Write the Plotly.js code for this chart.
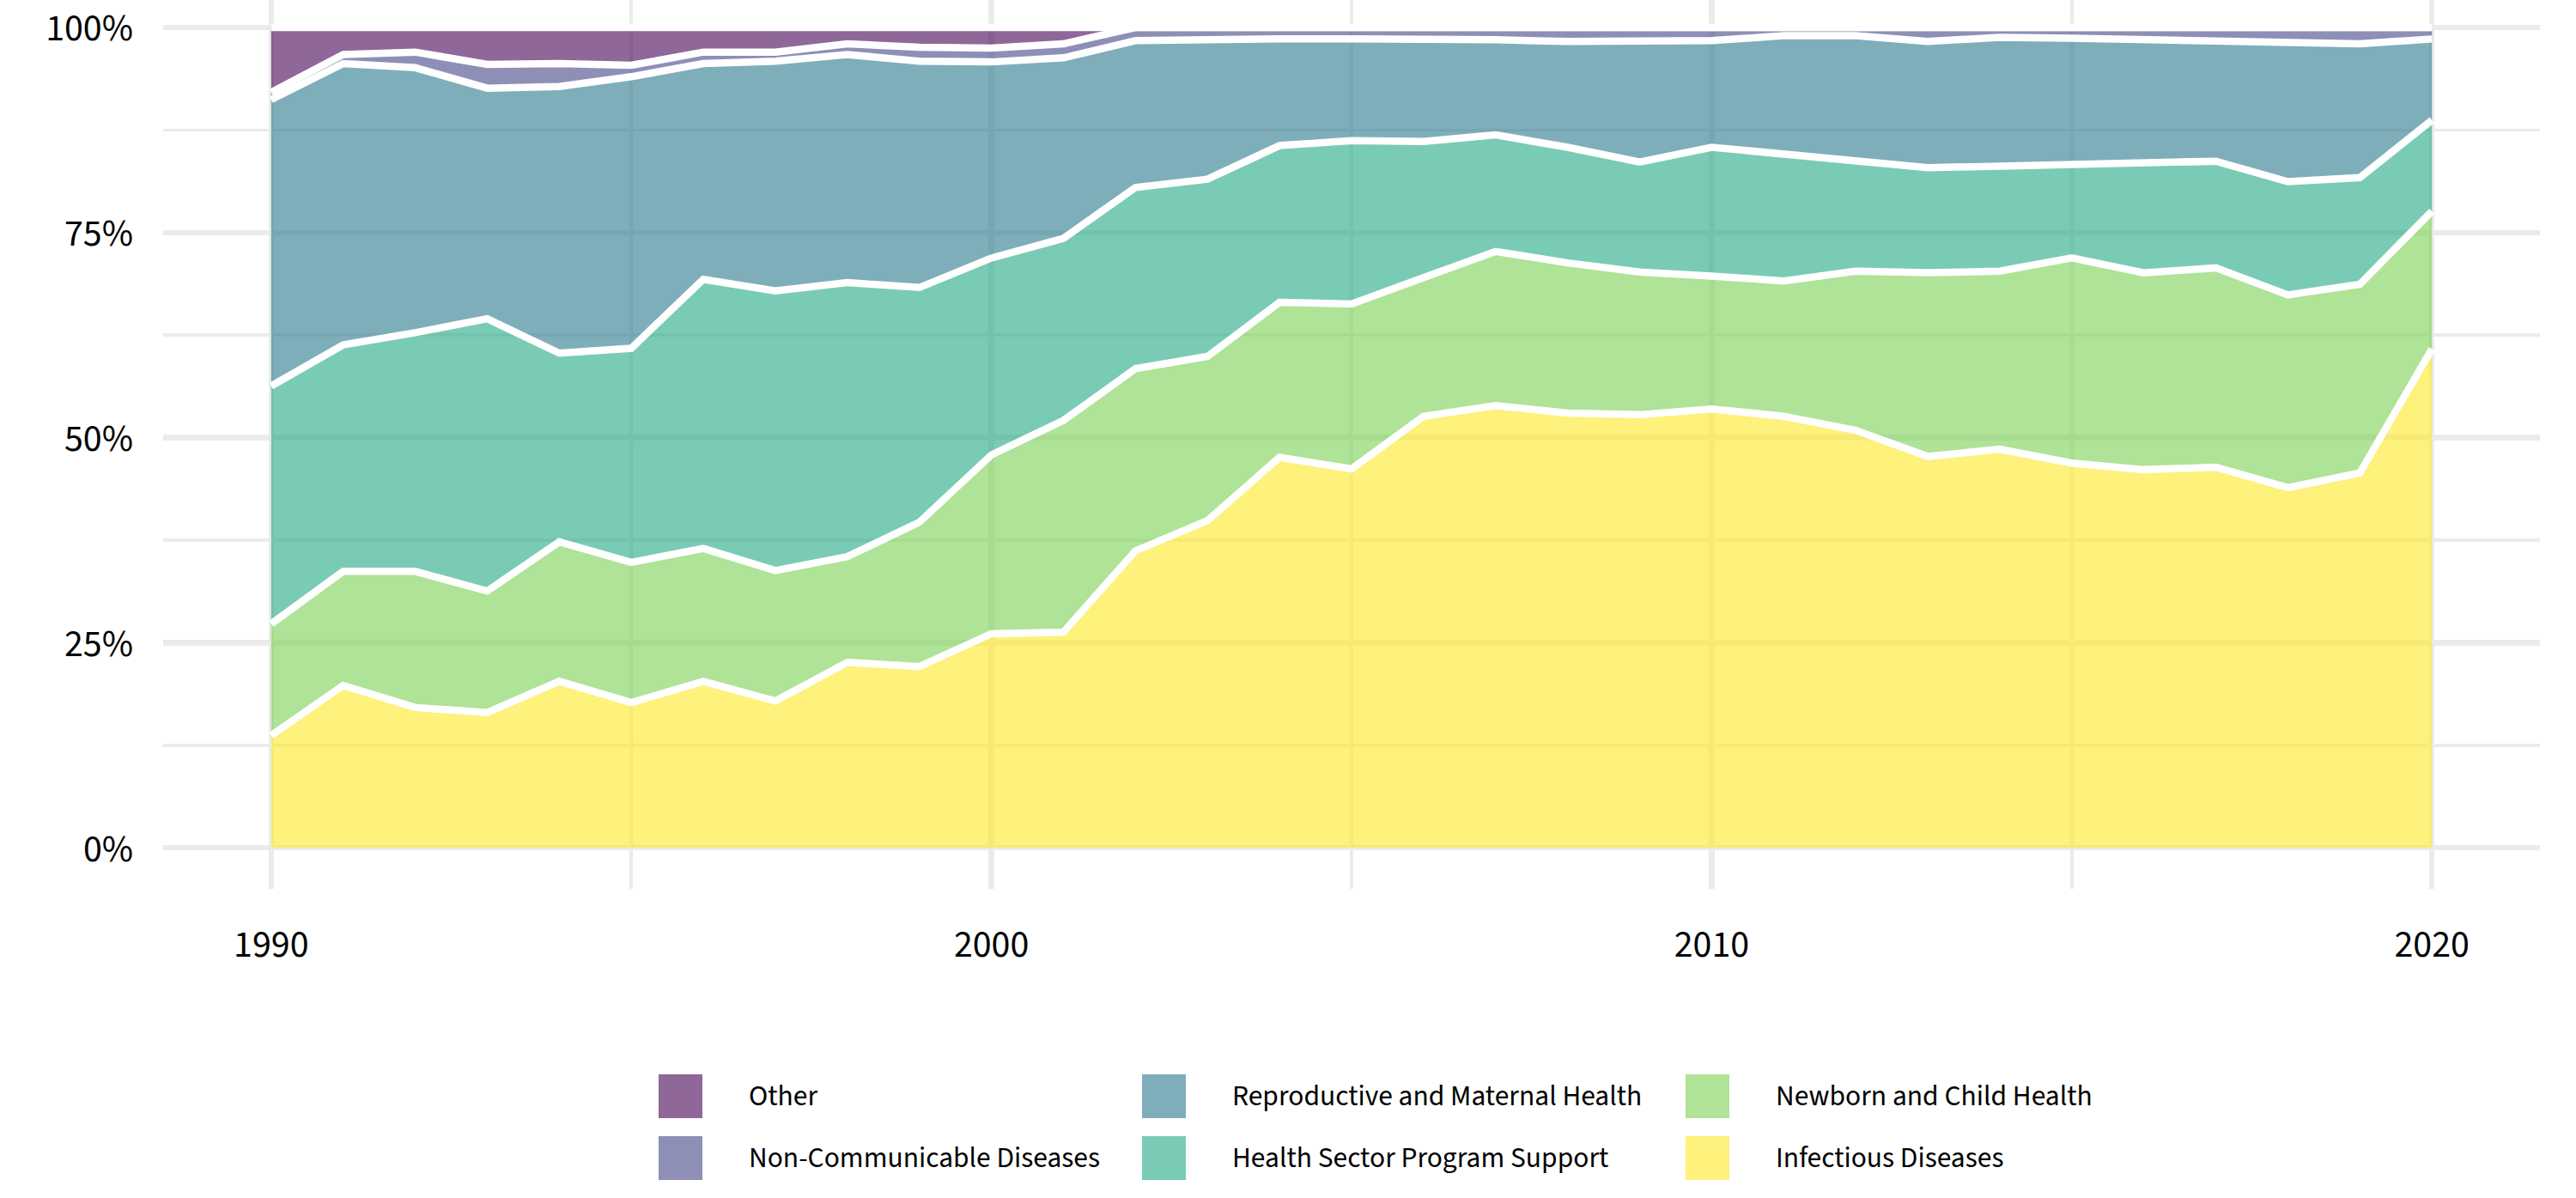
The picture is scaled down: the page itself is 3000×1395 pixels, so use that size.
<!DOCTYPE html>
<html>
<head>
<meta charset="utf-8">
<script src="https://cdn.plot.ly/plotly-3.0.1.min.js"></script>
<style>
  html, body { margin: 0; padding: 0; background: #ffffff; }
  #chart { width: 3000px; height: 1395px; }
</style>
</head>
<body>
<div id="chart"></div>
<script>
// ---- Data (share of funding, %) ----
const years = [1990,1991,1992,1993,1994,1995,1996,1997,1998,1999,2000,2001,2002,2003,2004,2005,2006,2007,2008,2009,2010,2011,2012,2013,2014,2015,2016,2017,2018,2019,2020];

const infectious = [13.7,19.8,17.1,16.5,20.3,17.7,20.3,17.9,22.6,22.1,26.1,26.3,36.2,39.9,47.6,46.2,52.6,53.9,53.0,52.8,53.5,52.6,50.9,47.7,48.6,46.9,46.1,46.4,43.9,45.7,60.8];
const newbornChild = [13.6,13.9,16.6,14.8,17.0,17.1,16.2,15.9,12.9,17.6,21.8,25.8,22.2,20.0,18.9,20.1,16.9,18.8,18.3,17.4,16.2,16.5,19.4,22.4,21.7,25.0,24.0,24.3,23.5,23.0,16.8];
const healthSector = [29.0,27.6,29.1,33.2,23.0,26.1,32.8,34.1,33.4,28.6,24.0,22.2,22.1,21.6,19.1,19.9,16.6,14.2,14.1,13.4,15.7,15.5,13.6,12.8,12.8,11.4,13.3,13.0,13.8,13.0,11.1];
const reproMaternal = [34.9,34.3,32.3,28.1,32.5,33.1,26.3,28.0,27.8,27.6,23.9,22.0,17.9,17.1,13.0,12.4,12.5,11.6,12.9,14.7,13.0,14.4,15.1,15.4,15.7,15.4,15.1,14.8,17.1,16.3,9.9];
const nonCommunicable = [0.9,1.1,1.9,2.9,2.8,1.4,1.4,1.1,1.3,1.7,1.7,1.7,1.6,1.4,1.4,1.4,1.4,1.5,1.7,1.7,1.6,1.0,1.0,1.7,1.2,1.3,1.5,1.5,1.7,2.0,1.4];
const other = [7.9,3.3,3.0,4.5,4.4,4.6,3.0,3.0,2.0,2.4,2.5,2.0,0,0,0,0,0,0,0,0,0,0,0,0,0,0,0,0,0,0,0];

const categories = ["Infectious Diseases","Newborn and Child Health","Health Sector Program Support","Reproductive and Maternal Health","Non-Communicable Diseases","Other"];
const seriesValues = [infectious, newbornChild, healthSector, reproMaternal, nonCommunicable, other];
const fillColors = ["rgba(253,231,37,0.6)","rgba(122,209,81,0.6)","rgba(34,168,132,0.6)","rgba(42,120,142,0.6)","rgba(65,68,135,0.6)","rgba(68,1,84,0.6)"];

const yTickVals = [0,25,50,75,100];
const xTickVals = [1990,2000,2010,2020];

// legend layout: columns of category names
const legendColumns = [["Other","Non-Communicable Diseases"],["Reproductive and Maternal Health","Health Sector Program Support"],["Newborn and Child Health","Infectious Diseases"]];

// ---- Geometry ----
const W = 3000, H = 1395;
const M = {l: 190, r: 42, t: 0, b: 360};
const plotW = W - M.l - M.r, plotH = H - M.t - M.b;
const px2x = p => (p - M.l) / plotW;
const px2y = p => (M.t + plotH - p) / plotH;

const FONT = '"Source Sans Pro", "Source Sans 3", "Noto Sans", sans-serif';

const traces = categories.map((name, i) => ({
  type: 'scatter',
  mode: 'lines',
  name: name,
  x: years,
  y: seriesValues[i],
  stackgroup: 'one',
  groupnorm: i === 0 ? 'percent' : undefined,
  fillcolor: fillColors[i],
  line: {color: '#ffffff', width: 8.5, shape: 'linear'},
  showlegend: false,
  hoverinfo: 'x+y+name'
}));

// manual legend (squares + text)
const legendColX = [767, 1330, 1963];
const legendRowY = [1251, 1323];
const swatch = 51;
const textGap = 52;
const shapes = [];
const annotations = [];
legendColumns.forEach((col, ci) => {
  col.forEach((name, ri) => {
    const idx = categories.indexOf(name);
    const x0 = legendColX[ci], y0 = legendRowY[ri];
    shapes.push({
      type: 'rect', xref: 'paper', yref: 'paper',
      x0: px2x(x0), x1: px2x(x0 + swatch),
      y0: px2y(y0 + swatch), y1: px2y(y0),
      fillcolor: fillColors[idx], line: {width: 0}
    });
    annotations.push({
      xref: 'paper', yref: 'paper',
      x: px2x(x0 + swatch + textGap), y: px2y(y0 + swatch / 2),
      xanchor: 'left', yanchor: 'middle',
      text: name, showarrow: false,
      font: {family: FONT, size: 33.5, color: '#000000'}
    });
  });
});

const layout = {
  width: W, height: H,
  margin: M,
  paper_bgcolor: '#ffffff',
  plot_bgcolor: '#ffffff',
  showlegend: false,
  font: {family: FONT, color: '#000000'},
  xaxis: {
    range: [1988.5, 2021.5],
    tickvals: xTickVals,
    ticktext: xTickVals.map(String),
    showgrid: true, gridcolor: '#EBEBEB', gridwidth: 6.5,
    minor: {tickvals: [1995, 2005, 2015], showgrid: true, gridcolor: '#EBEBEB', gridwidth: 3.5, ticks: ''},
    zeroline: false, showline: false, ticks: '',
    ticklabelstandoff: 34,
    tickfont: {family: FONT, size: 44, color: '#000000'}
  },
  yaxis: {
    range: [-5, 103.35],
    tickvals: yTickVals,
    ticktext: yTickVals.map(v => v + '%'),
    showgrid: true, gridcolor: '#EBEBEB', gridwidth: 6.5,
    minor: {tickvals: [12.5, 37.5, 62.5, 87.5], showgrid: true, gridcolor: '#EBEBEB', gridwidth: 3.5, ticks: ''},
    zeroline: false, showline: false, ticks: '',
    ticklabelstandoff: 34,
    tickfont: {family: FONT, size: 44, color: '#000000'}
  },
  shapes: shapes,
  annotations: annotations
};

Plotly.newPlot('chart', traces, layout, {displayModeBar: false, staticPlot: true});
</script>
</body>
</html>
